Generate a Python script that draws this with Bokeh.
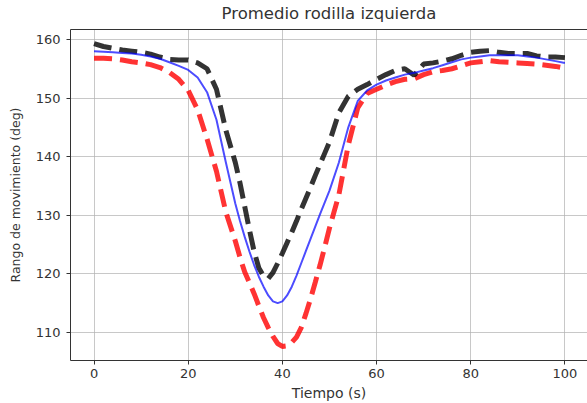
from bokeh.plotting import figure
from bokeh.models import LinearAxis, SingleIntervalTicker, FixedTicker, Range1d
from bokeh.embed import file_html
from bokeh.resources import INLINE

tiempo = (list(range(0, 30, 2)) + list(range(30, 51, 1)) + list(range(52, 101, 2)))

promedio = [158.0, 157.9, 157.8, 157.7, 157.6, 157.4, 157.1, 156.7, 156.1, 155.5,
            154.8, 153.5, 151.0, 146.3, 139.0,
            132.0, 129.0, 126.3, 123.8, 121.5, 119.5, 117.8, 116.3, 115.3, 115.0,
            115.3, 116.3, 117.8, 119.7, 121.8, 123.9, 126.0, 128.1, 130.2, 132.2,
            134.2,
            139.0, 145.0, 149.5, 151.3, 152.3, 153.0, 153.5, 154.0, 154.3, 154.7,
            155.1, 155.6, 156.1, 156.6, 156.9, 157.1, 157.3, 157.3, 157.3, 157.3,
            157.1, 156.9, 156.6, 156.3, 156.0]

superior = [159.3, 158.8, 158.5, 158.2, 158.0, 157.8, 157.5, 157.0, 156.6, 156.5,
            156.5, 156.0, 155.0, 151.5, 144.5,
            139.0, 135.5, 131.5, 127.5, 123.8, 121.0, 119.6, 119.2, 120.2, 121.8,
            123.5, 125.3, 127.1, 129.0, 131.0, 132.9, 134.8, 136.8, 138.7, 140.6,
            142.5,
            147.5, 150.3, 151.5, 152.3, 153.2, 154.0, 154.7, 155.0, 153.9, 155.8,
            156.0, 156.3, 156.7, 157.3, 157.8, 158.0, 158.1, 157.8, 157.6, 157.6,
            157.6, 157.2, 157.0, 157.0, 156.9]

inferior = [156.8, 156.8, 156.7, 156.5, 156.2, 156.0, 155.7, 155.2, 154.4, 153.2,
            151.3, 148.0, 143.0, 137.5, 130.5,
            125.6, 122.8, 120.3, 118.5, 116.6, 114.5, 112.5, 110.8, 109.3, 108.1,
            107.6, 107.7, 108.3, 109.2, 110.8, 113.2, 115.8, 118.6, 121.5, 124.6,
            127.8,
            133.5, 142.0, 148.3, 150.8, 151.5, 152.2, 152.8, 153.2, 153.3, 154.0,
            154.5, 154.7, 155.0, 155.5, 156.0, 156.2, 156.4, 156.2, 156.1, 156.0,
            155.9, 155.8, 155.6, 155.4, 155.1]

titulo = "Promedio rodilla izquierda"
etiqueta_x = "Tiempo (s)"
etiqueta_y = "Rango de movimiento (deg)"

FONT = "DejaVu Sans"
TXT = "#333333"

p = figure(width=587, height=403, output_backend="svg", toolbar_location=None,
           x_range=Range1d(-5, 104.8), y_range=Range1d(105.2, 161.7),
           min_border_left=70, min_border_right=0, min_border_top=29,
           min_border_bottom=43)
p.outline_line_color = None
p.background_fill_color = "white"
p.border_fill_color = "white"

p.xaxis.ticker = SingleIntervalTicker(interval=20)
p.yaxis.ticker = SingleIntervalTicker(interval=10)
for ax in (p.xaxis[0], p.yaxis[0]):
    ax.axis_line_color = TXT
    ax.major_tick_line_color = TXT
    ax.major_tick_out = 4
    ax.major_tick_in = 0
    ax.minor_tick_line_color = None
    ax.major_label_text_font = FONT
    ax.major_label_text_font_size = "13px"
    ax.major_label_text_color = TXT
    ax.axis_label_text_font = FONT
    ax.axis_label_text_font_style = "normal"
    ax.axis_label_text_color = TXT
p.xaxis.axis_label = etiqueta_x
p.xaxis.axis_label_text_font_size = "14px"
p.xaxis.major_label_standoff = 4
p.xaxis.axis_label_standoff = 4
p.yaxis.axis_label = etiqueta_y
p.yaxis.axis_label_text_font_size = "12.5px"
p.yaxis.major_label_standoff = 6
p.yaxis.axis_label_standoff = 10

# top spine carrying the chart title
top = LinearAxis(ticker=FixedTicker(ticks=[]), axis_line_color=TXT,
                 major_tick_line_color=None, minor_tick_line_color=None,
                 major_label_standoff=0, axis_label=titulo,
                 axis_label_text_font=FONT, axis_label_text_font_size="16.5px",
                 axis_label_text_font_style="normal", axis_label_text_color=TXT,
                 axis_label_standoff=7)
p.add_layout(top, "above")

p.xgrid.grid_line_color = "#b0b0b0"
p.ygrid.grid_line_color = "#b0b0b0"
p.xgrid.grid_line_alpha = 0.7
p.ygrid.grid_line_alpha = 0.7

p.line(tiempo, inferior, line_color="red", line_alpha=0.8, line_width=5, line_dash="18 8")
p.line(tiempo, superior, line_color="black", line_alpha=0.8, line_width=5, line_dash="18 8")
p.line(tiempo, promedio, line_color="blue", line_alpha=0.7, line_width=2)

open("out.html", "w").write(file_html(p, INLINE))
